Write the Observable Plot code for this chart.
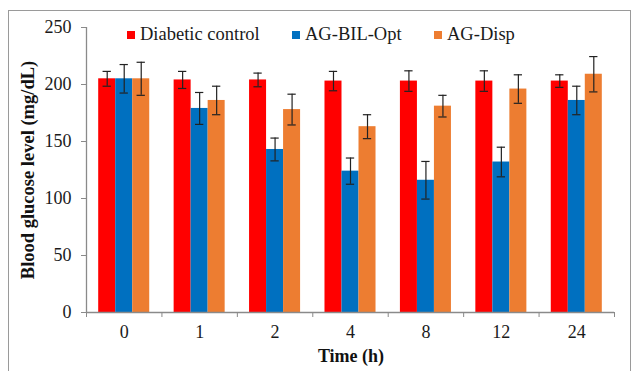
<!DOCTYPE html>
<html>
<head>
<meta charset="utf-8">
<script src="https://cdn.jsdelivr.net/npm/d3@7"></script>
<script src="https://cdn.jsdelivr.net/npm/@observablehq/plot@0.6"></script>
<style>
  html, body { margin: 0; padding: 0; background: #fff; }
  #wrap { position: relative; width: 634px; height: 371px; overflow: hidden; font-family: "Liberation Serif", "Times New Roman", serif; }
  #border { position: absolute; left: 8px; top: 10px; width: 623px; height: 380px; border: 1.5px solid #9a9a9a; box-sizing: border-box; }
  #chart { position: absolute; left: 0; top: 0; }
  #chart svg text { font-family: "Liberation Serif", "Times New Roman", serif; }
  .leg { position: absolute; top: 24px; font-size: 18.5px; color: #1a1a1a; white-space: nowrap; line-height: 20px; }
  .leg span.sw { display: inline-block; width: 8px; height: 8px; margin-right: 5px; vertical-align: 1px; }
  #ytitle { position: absolute; left: 28px; top: 170px; transform: translate(-50%, -50%) rotate(-90deg); font-weight: bold; font-size: 18.5px; white-space: nowrap; color: #111; }
  #xtitle { position: absolute; left: 351px; top: 356px; transform: translate(-50%, -50%); font-weight: bold; font-size: 18px; white-space: nowrap; color: #111; }
</style>
</head>
<body>
<div id="wrap">
  <div id="chart"></div>
  <div id="border"></div>
</div>
<script>
const times = ["0", "1", "2", "4", "8", "12", "24"];
const seriesNames = ["Diabetic control", "AG-BIL-Opt", "AG-Disp"];
const seriesColors = ["#ff0000", "#0070c0", "#ed7d31"];
const controlMean = [205, 204, 204, 203, 203, 203, 203];
const controlErr = [6.5, 7.5, 6, 8.5, 9, 9, 5.5];
const optMean = [205, 179, 143, 124, 116, 132, 186];
const optErr = [12.5, 14, 10, 11.5, 16.5, 13, 12.5];
const dispMean = [205, 186, 178, 163, 181, 196, 209];
const dispErr = [14.5, 12.5, 13.5, 10.5, 9.5, 12.5, 15.5];
const yTicks = [0, 50, 100, 150, 200, 250];

const means = [controlMean, optMean, dispMean];
const errs = [controlErr, optErr, dispErr];

// layout constants (in category units)
const barW = 0.2255;
const capW = 0.11;

const data = [];
times.forEach((t, i) => {
  seriesNames.forEach((s, k) => {
    const x1 = i + 0.5 - 1.5 * barW + k * barW;
    data.push({
      time: t, series: s, value: means[k][i], err: errs[k][i],
      x1, x2: x1 + barW, xc: x1 + barW / 2
    });
  });
});

const plot = Plot.plot({
  width: 634,
  height: 371,
  marginLeft: 86,
  marginRight: 20,
  marginTop: 27,
  marginBottom: 59,
  style: { fontFamily: "Liberation Serif, Times New Roman, serif", fontSize: "18px", color: "#1a1a1a", background: "transparent" },
  x: { domain: [0, times.length], axis: null },
  y: { domain: [0, 250], axis: null },
  color: { domain: seriesNames, range: seriesColors },
  marks: [
    Plot.rectY(data, { x1: "x1", x2: "x2", y1: 0, y2: "value", fill: "series" }),
    Plot.ruleX(data, { x: "xc", y1: d => d.value - d.err, y2: d => d.value + d.err, stroke: "#222", strokeWidth: 1.2 }),
    Plot.ruleY(data, { y: d => d.value + d.err, x1: d => d.xc - capW / 2, x2: d => d.xc + capW / 2, stroke: "#222", strokeWidth: 1.2 }),
    Plot.ruleY(data, { y: d => d.value - d.err, x1: d => d.xc - capW / 2, x2: d => d.xc + capW / 2, stroke: "#222", strokeWidth: 1.2 }),
    // axis lines
    Plot.ruleY([0], { stroke: "#8a8a8a", strokeWidth: 1.3 }),
    Plot.ruleX([0], { stroke: "#8a8a8a", strokeWidth: 1.3 }),
    // y axis ticks + labels
    Plot.axisY(yTicks, { tickSize: 5, tickPadding: 10, stroke: "#8a8a8a", fill: "#1a1a1a", label: null, fontSize: 18 }),
    // x boundary ticks
    Plot.axisX(d3.range(times.length + 1), { tickSize: 5, tickFormat: () => "", stroke: "#8a8a8a", label: null }),
    // x category labels
    Plot.axisX(times.map((t, i) => i + 0.5), { tickSize: 0, tickPadding: 13, tickFormat: (d, i) => times[i], fill: "#1a1a1a", label: null, fontSize: 18 })
  ]
});
document.getElementById("chart").appendChild(plot);

const wrap = document.getElementById("wrap");
const legLeft = [127, 292, 434];
seriesNames.forEach((s, k) => {
  const el = document.createElement("div");
  el.className = "leg";
  el.style.left = legLeft[k] + "px";
  el.innerHTML = `<span class="sw" style="background:${seriesColors[k]}"></span>${s}`;
  wrap.appendChild(el);
});
const yt = document.createElement("div");
yt.id = "ytitle"; yt.textContent = "Blood glucose level (mg/dL)";
wrap.appendChild(yt);
const xt = document.createElement("div");
xt.id = "xtitle"; xt.textContent = "Time (h)";
wrap.appendChild(xt);
</script>
</body>
</html>
